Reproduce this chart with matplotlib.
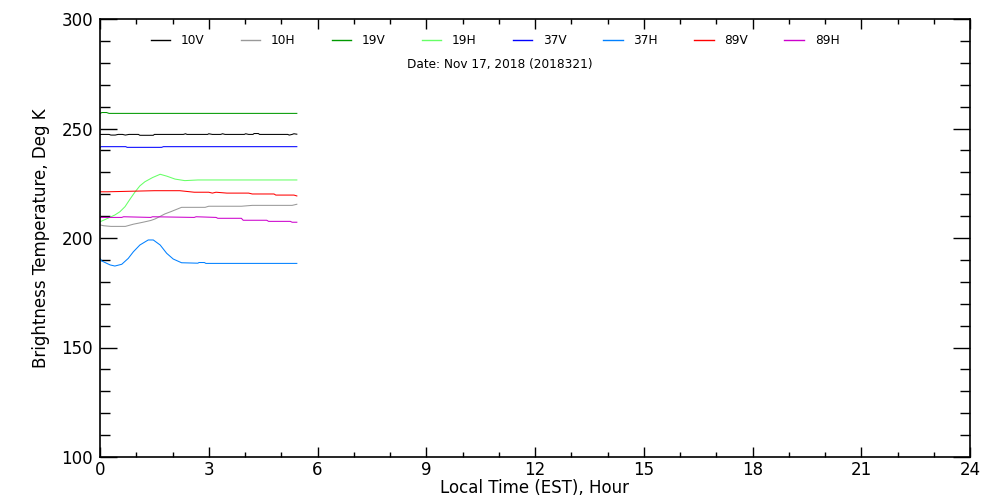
import matplotlib
matplotlib.use("Agg")
import matplotlib.pyplot as plt
from matplotlib.ticker import MultipleLocator

# ---- data (hours, brightness temperature K) ----
t_10v = [0, 0.25, 0.3, 0.42, 0.5, 0.62, 0.7, 0.8, 1.06, 1.1, 1.47, 1.5, 2.3, 2.36, 2.4, 2.97, 3.0, 3.1, 3.33, 3.38, 3.45, 3.98, 4.02, 4.1, 4.22, 4.25, 4.37, 4.4, 4.52, 4.6, 5.18, 5.22, 5.3, 5.35, 5.43]
v_10v = [247.3, 247.3, 247.0, 247.0, 247.3, 247.3, 247.0, 247.3, 247.3, 246.9, 246.9, 247.3, 247.3, 247.6, 247.3, 247.3, 247.6, 247.3, 247.3, 247.6, 247.3, 247.3, 247.6, 247.3, 247.3, 247.7, 247.7, 247.3, 247.3, 247.3, 247.3, 247.0, 247.3, 247.6, 247.4]

t_10h = [0, 0.1, 0.3, 0.7, 0.92, 1.1, 1.24, 1.4, 1.52, 1.65, 1.79, 1.95, 2.07, 2.25, 2.9, 3.0, 3.9, 4.2, 5.3, 5.43]
v_10h = [206.0, 205.6, 205.3, 205.3, 206.3, 206.9, 207.4, 208.0, 208.7, 209.8, 211.0, 212.0, 212.8, 214.0, 214.0, 214.5, 214.5, 214.9, 214.9, 215.4]

t_19v = [0, 0.05, 0.18, 0.25, 5.43]
v_19v = [256.8, 257.3, 257.3, 256.9, 256.9]

t_19h = [0, 0.15, 0.41, 0.55, 0.69, 0.83, 0.97, 1.1, 1.24, 1.45, 1.66, 1.85, 2.07, 2.34, 2.7, 3.0, 5.43]
v_19h = [207.4, 208.5, 210.5, 212.0, 214.3, 217.8, 221.1, 223.8, 225.7, 227.6, 229.1, 228.2, 226.9, 226.2, 226.5, 226.5, 226.5]

t_37v = [0, 0.03, 0.71, 0.75, 1.7, 1.75, 5.43]
v_37v = [241.4, 241.7, 241.7, 241.4, 241.4, 241.7, 241.7]

t_37h = [0, 0.05, 0.28, 0.41, 0.6, 0.78, 0.92, 1.1, 1.33, 1.47, 1.66, 1.84, 2.02, 2.25, 2.7, 2.73, 2.88, 2.92, 5.43]
v_37h = [190.7, 189.5, 187.7, 187.2, 188.0, 190.7, 193.7, 196.8, 199.1, 199.1, 196.8, 193.0, 190.4, 188.7, 188.5, 188.8, 188.8, 188.4, 188.4]

t_89v = [0, 0.2, 1.5, 2.2, 2.6, 3.0, 3.1, 3.2, 3.5, 4.1, 4.2, 4.8, 4.85, 5.35, 5.43]
v_89v = [221.1, 221.1, 221.6, 221.6, 220.9, 220.9, 220.5, 220.9, 220.5, 220.5, 220.1, 220.1, 219.6, 219.6, 219.2]

t_89h = [0, 0.6, 0.65, 1.4, 1.45, 2.6, 2.65, 3.2, 3.25, 3.9, 3.95, 4.6, 4.65, 5.25, 5.3, 5.43]
v_89h = [209.4, 209.4, 209.7, 209.4, 209.7, 209.4, 209.7, 209.4, 209.0, 209.0, 208.1, 208.1, 207.6, 207.6, 207.2, 207.2]

labels = ["10V", "10H", "19V", "19H", "37V", "37H", "89V", "89H"]
colors = ["#000000", "#999999", "#009900", "#66ff66", "#0000ff", "#0080ff", "#ff0000", "#cc00cc"]
series = [(t_10v, v_10v), (t_10h, v_10h), (t_19v, v_19v), (t_19h, v_19h),
          (t_37v, v_37v), (t_37h, v_37h), (t_89v, v_89v), (t_89h, v_89h)]

date_text = "Date: Nov 17, 2018 (2018321)"

fig = plt.figure(figsize=(10, 5), dpi=100)
ax = fig.add_axes([0.100, 0.086, 0.870, 0.876])

handles = []
for (t, v), lab, c in zip(series, labels, colors):
    h, = ax.plot(t, v, color=c, lw=0.75, label=lab)
    handles.append(h)

ax.set_xlim(0, 24)
ax.set_ylim(100, 300)
ax.xaxis.set_major_locator(MultipleLocator(3))
ax.xaxis.set_minor_locator(MultipleLocator(1))
ax.yaxis.set_major_locator(MultipleLocator(50))
ax.yaxis.set_minor_locator(MultipleLocator(10))

ax.tick_params(axis="x", which="major", direction="in", length=7.5, width=1, top=True, bottom=True, labelsize=12, pad=3)
ax.tick_params(axis="x", which="minor", direction="in", length=3.5, width=1, top=True, bottom=True)
ax.tick_params(axis="y", which="major", direction="in", length=12.5, width=1, left=True, right=True, labelsize=12, pad=5)
ax.tick_params(axis="y", which="minor", direction="in", length=7, width=1, left=True, right=True)
for s in ax.spines.values():
    s.set_linewidth(1.2)

ax.set_xlabel("Local Time (EST), Hour", fontsize=12, labelpad=0)
ax.set_ylabel("Brightness Temperature, Deg K", fontsize=12, labelpad=8)

leg = ax.legend(handles=handles, ncol=8, loc="upper center", bbox_to_anchor=(0.454, 0.99),
                frameon=False, fontsize=8.7, handlelength=1.6, handletextpad=0.9,
                columnspacing=3.0)
for lh in leg.get_lines():
    lh.set_linewidth(1.0)
ax.text(0.46, 0.895, date_text, transform=ax.transAxes, ha="center", va="center", fontsize=8.7)

fig.savefig("out.png", dpi=100)
